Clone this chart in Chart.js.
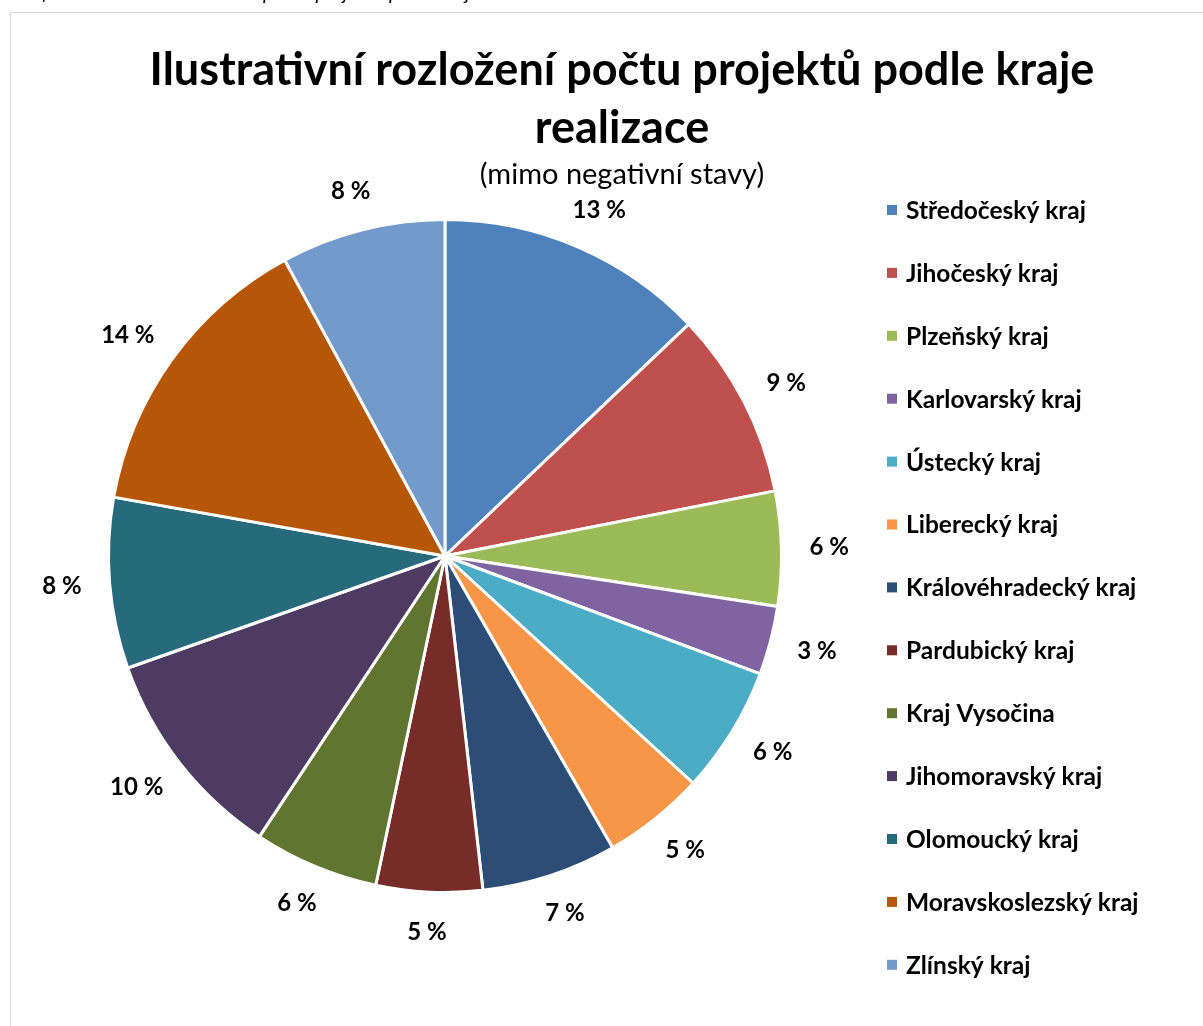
<!DOCTYPE html>
<html lang="cs">
<head>
<meta charset="utf-8">
<title>Ilustrativní rozložení počtu projektů podle kraje realizace</title>
<script src="https://cdn.jsdelivr.net/npm/chart.js@4.4.1/dist/chart.umd.min.js"></script>
<style>
    html, body { margin: 0; padding: 0; background: #fff; overflow: hidden; }
    #wrap { position: relative; width: 1203px; height: 1026px; }
    canvas { position: absolute; left: 0; top: 0; }
</style>
</head>
<body>
<div id="wrap">
    <canvas id="pieChart" width="1203" height="1026"></canvas>
</div>
<script>
// Data
const regions = ['Středočeský kraj', 'Jihočeský kraj', 'Plzeňský kraj', 'Karlovarský kraj', 'Ústecký kraj',
    'Liberecký kraj', 'Královéhradecký kraj', 'Pardubický kraj', 'Kraj Vysočina', 'Jihomoravský kraj',
    'Olomoucký kraj', 'Moravskoslezský kraj', 'Zlínský kraj'];
const shares = [12.9, 9.0, 5.5, 3.3, 6.1, 4.9, 6.5, 5.1, 6.0, 10.3, 8.2, 14.3, 7.9];
const colors = ['#4f81bd', '#c0504d', '#9bbb59', '#8064a2', '#4bacc6', '#f79646', '#2c4d75',
    '#772c2a', '#5f7530', '#4d3b62', '#276a7c', '#b65708', '#729aca'];
const titleLines = ['Ilustrativní rozložení počtu projektů podle kraje', 'realizace'];
const subtitle = '(mimo negativní stavy)';
const caption = 'Graf č. 7: Ilustrativní rozložení počtu projektů podle kraje realizace';

const FONT = 'Lato, "Noto Sans", sans-serif';

// Frame, title, labels and legend drawn on the chart canvas
const decorations = {
    id: 'decorations',
    beforeDraw(chart) {
        const ctx = chart.ctx;
        ctx.save();
        // caption above the frame, cut off by the top of the page
        ctx.fillStyle = '#000';
        ctx.font = 'italic 20px ' + FONT;
        ctx.textBaseline = 'alphabetic';
        ctx.textAlign = 'left';
        ctx.fillText(caption, 12, 0);
        // frame
        ctx.strokeStyle = '#d9d9d9';
        ctx.lineWidth = 1;
        ctx.beginPath();
        ctx.moveTo(10.5, 1100);
        ctx.lineTo(10.5, 12.5);
        ctx.lineTo(1300, 12.5);
        ctx.stroke();
        ctx.restore();
    },
    afterDraw(chart) {
        const ctx = chart.ctx;
        ctx.save();
        ctx.fillStyle = '#000';
        ctx.textAlign = 'center';
        ctx.textBaseline = 'middle';

        // title
        ctx.font = 'bold 45px ' + FONT;
        ctx.fillText(titleLines[0], 622, 70);
        ctx.fillText(titleLines[1], 622, 128);
        ctx.font = '29px ' + FONT;
        ctx.fillText(subtitle, 622, 175);

        // percentage labels just outside each slice
        const meta = chart.getDatasetMeta(0);
        ctx.font = 'bold 24px ' + FONT;
        meta.data.forEach((arc, i) => {
            const text = Math.round(shares[i]) + ' %';
            const w = ctx.measureText(text).width;
            const h = 24;
            const mid = (arc.startAngle + arc.endAngle) / 2;
            const ux = Math.cos(mid), uy = Math.sin(mid);
            const r = arc.outerRadius + 28;
            const x = arc.x + ux * r + ux * w / 2;
            const y = arc.y + uy * r + uy * h / 2;
            ctx.fillText(text, x, y);
        });

        // legend
        ctx.textAlign = 'left';
        ctx.font = 'bold 24.5px ' + FONT;
        regions.forEach((name, i) => {
            const y = 210 + i * 62.9;
            ctx.fillStyle = colors[i];
            ctx.fillRect(887, y - 5, 10, 10);
            ctx.fillStyle = '#000';
            ctx.fillText(name, 906, y + 1);
        });
        ctx.restore();
    }
};

const pieChart = new Chart(document.getElementById('pieChart').getContext('2d'), {
    type: 'pie',
    data: {
        labels: regions,
        datasets: [{
            data: shares,
            backgroundColor: colors,
            borderColor: '#ffffff',
            borderWidth: 3
        }]
    },
    options: {
        responsive: false,
        animation: false,
        devicePixelRatio: 1,
        layout: {
            padding: { left: 107, right: 420, top: 218, bottom: 132 }
        },
        plugins: {
            legend: { display: false },
            title: { display: false },
            tooltip: { enabled: false }
        }
    },
    plugins: [decorations]
});
</script>
</body>
</html>
